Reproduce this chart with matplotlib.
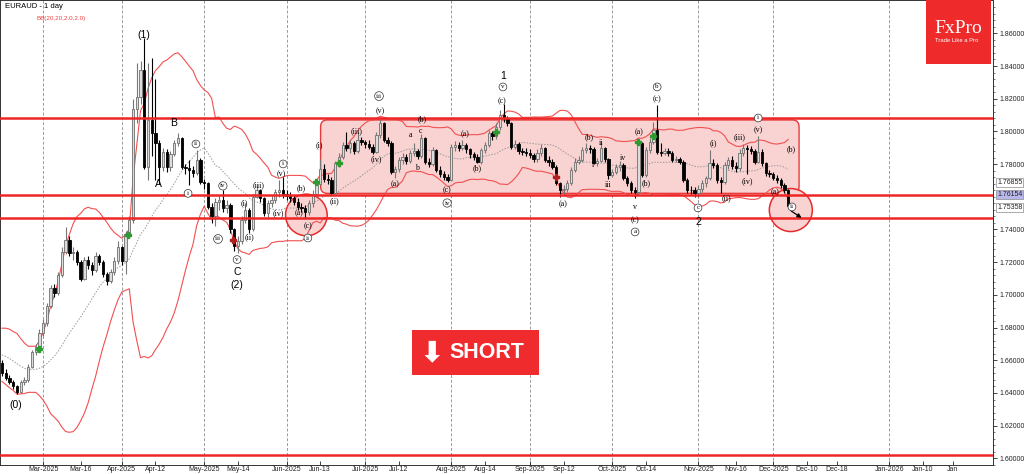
import numpy as np
import pandas as pd
import matplotlib
matplotlib.use("Agg")
import matplotlib.pyplot as plt
import matplotlib.transforms as mtransforms
from matplotlib.patches import FancyBboxPatch, Ellipse, Rectangle

plt.rcParams['font.family'] = ['Liberation Sans', 'DejaVu Sans']

# closes of the bars before the first visible one (they only feed the bands)
prior_closes = [1.6680, 1.6720, 1.6760, 1.6740, 1.6770, 1.6730, 1.6690, 1.6650, 1.6680, 1.6640,
                1.6600, 1.6570, 1.6610, 1.6560, 1.6520, 1.6550, 1.6530, 1.6570, 1.6581]

# daily bars, 14 Feb 2025 .. 5 Dec 2025 (open = previous close)
closes = [1.6520, 1.6490, 1.6470, 1.6440, 1.6405, 1.6469, 1.6480, 1.6561, 1.6650, 1.6680,
          1.6770, 1.6830, 1.6930, 1.7040, 1.7010, 1.7122, 1.7264, 1.7336, 1.7254, 1.7260,
          1.7200, 1.7100, 1.7214, 1.7180, 1.7150, 1.7240, 1.7200, 1.7130, 1.7085, 1.7140,
          1.7210, 1.7290, 1.7210, 1.7370, 1.7460, 1.8140, 1.8212, 1.8375, 1.7784, 1.8070,
          1.7990, 1.7930, 1.7784, 1.7876, 1.7784, 1.7860, 1.7927, 1.7958, 1.7784, 1.7774,
          1.7764, 1.7744, 1.7825, 1.7693, 1.7682, 1.7540, 1.7480, 1.7570, 1.7581, 1.7530,
          1.7550, 1.7400, 1.7300, 1.7330, 1.7458, 1.7520, 1.7400, 1.7601, 1.7642, 1.7590,
          1.7500, 1.7560, 1.7581, 1.7630, 1.7642, 1.7615, 1.7605, 1.7595, 1.7570, 1.7540,
          1.7530, 1.7509, 1.7560, 1.7620, 1.7680, 1.7770, 1.7710, 1.7700, 1.7625, 1.7805,
          1.7846, 1.7917, 1.7896, 1.7927, 1.7880, 1.7948, 1.7935, 1.7920, 1.7905, 1.7876,
          1.7978, 1.8049, 1.7950, 1.7930, 1.7754, 1.7770, 1.7825, 1.7846, 1.7820, 1.7866,
          1.7880, 1.7850, 1.7958, 1.7815, 1.7800, 1.7886, 1.7764, 1.7740, 1.7720, 1.7700,
          1.7907, 1.7917, 1.7900, 1.7915, 1.7890, 1.7860, 1.7846, 1.7815, 1.7886, 1.7917,
          1.7988, 1.7970, 1.8029, 1.8100, 1.8080, 1.8050, 1.7907, 1.7920, 1.7880, 1.7876,
          1.7870, 1.7856, 1.7830, 1.7866, 1.7896, 1.7825, 1.7810, 1.7784, 1.7682, 1.7640,
          1.7650, 1.7682, 1.7764, 1.7815, 1.7825, 1.7886, 1.7896, 1.7890, 1.7805, 1.7820,
          1.7896, 1.7830, 1.7733, 1.7750, 1.7780, 1.7795, 1.7713, 1.7682, 1.7642, 1.7630,
          1.7927, 1.7733, 1.7886, 1.7937, 1.8009, 1.7876, 1.7870, 1.7880, 1.7866, 1.7825,
          1.7830, 1.7815, 1.7703, 1.7642, 1.7640, 1.7625, 1.7650, 1.7682, 1.7713, 1.7805,
          1.7795, 1.7700, 1.7692, 1.7795, 1.7825, 1.7790, 1.7774, 1.7866, 1.7896, 1.7890,
          1.7880, 1.7815, 1.7875, 1.7805, 1.7745, 1.7738, 1.7713, 1.7703, 1.7672, 1.7642,
          1.7545]

highs = [1.6600, 1.6545, 1.6510, 1.6480, 1.6450, 1.6480, 1.6500, 1.6580, 1.6665, 1.6700,
         1.6790, 1.6850, 1.6950, 1.7060, 1.7065, 1.7140, 1.7290, 1.7418, 1.7360, 1.7290,
         1.7275, 1.7215, 1.7230, 1.7240, 1.7200, 1.7265, 1.7250, 1.7215, 1.7140, 1.7160,
         1.7230, 1.7330, 1.7300, 1.7390, 1.7480, 1.8200, 1.8420, 1.8430, 1.8570, 1.8420,
         1.8450, 1.8320, 1.7950, 1.7900, 1.7890, 1.7880, 1.7950, 1.7988, 1.7965, 1.7800,
         1.7825, 1.7790, 1.7886, 1.7840, 1.7710, 1.7690, 1.7560, 1.7590, 1.7610, 1.7640,
         1.7580, 1.7560, 1.7410, 1.7360, 1.7480, 1.7560, 1.7530, 1.7620, 1.7680, 1.7650,
         1.7600, 1.7580, 1.7610, 1.7650, 1.7700, 1.7720, 1.7640, 1.7630, 1.7610, 1.7590,
         1.7560, 1.7550, 1.7580, 1.7640, 1.7700, 1.7830, 1.7800, 1.7740, 1.7720, 1.7820,
         1.7870, 1.7935, 1.7998, 1.7950, 1.7940, 1.7998, 1.7965, 1.7950, 1.7945, 1.7920,
         1.7995, 1.8074, 1.8060, 1.7965, 1.7940, 1.7790, 1.7845, 1.7870, 1.7860, 1.7885,
         1.7930, 1.7895, 1.7985, 1.7965, 1.7840, 1.7905, 1.7895, 1.7790, 1.7760, 1.7740,
         1.7925, 1.7940, 1.7935, 1.7950, 1.7930, 1.7900, 1.7875, 1.7860, 1.7900, 1.7935,
         1.8010, 1.8005, 1.8050, 1.8130, 1.8170, 1.8095, 1.8060, 1.7945, 1.7935, 1.7900,
         1.7900, 1.7890, 1.7870, 1.7890, 1.7920, 1.7905, 1.7850, 1.7830, 1.7795, 1.7690,
         1.7670, 1.7700, 1.7780, 1.7835, 1.7850, 1.7905, 1.7930, 1.7915, 1.7905, 1.7840,
         1.7940, 1.7905, 1.7840, 1.7770, 1.7800, 1.7820, 1.7805, 1.7725, 1.7695, 1.7660,
         1.7950, 1.7935, 1.7905, 1.7960, 1.8060, 1.8160, 1.7930, 1.7900, 1.7900, 1.7880,
         1.7850, 1.7845, 1.7825, 1.7715, 1.7665, 1.7660, 1.7670, 1.7700, 1.7730, 1.7886,
         1.7830, 1.7805, 1.7720, 1.7815, 1.7845, 1.7850, 1.7810, 1.7890, 1.7920, 1.7915,
         1.7910, 1.7895, 1.7970, 1.7890, 1.7815, 1.7765, 1.7750, 1.7735, 1.7715, 1.7685,
         1.7650]

lows = [1.6505, 1.6478, 1.6455, 1.6425, 1.6395, 1.6398, 1.6450, 1.6470, 1.6550, 1.6630,
        1.6670, 1.6750, 1.6810, 1.6920, 1.6990, 1.7000, 1.7110, 1.7250, 1.7240, 1.7215,
        1.7180, 1.7085, 1.7090, 1.7160, 1.7120, 1.7140, 1.7180, 1.7110, 1.7060, 1.7070,
        1.7120, 1.7190, 1.7180, 1.7130, 1.7350, 1.7440, 1.8050, 1.8170, 1.7770, 1.7700,
        1.7850, 1.7700, 1.7680, 1.7760, 1.7750, 1.7760, 1.7850, 1.7910, 1.7770, 1.7740,
        1.7672, 1.7720, 1.7735, 1.7680, 1.7650, 1.7525, 1.7440, 1.7420, 1.7520, 1.7510,
        1.7500, 1.7380, 1.7270, 1.7255, 1.7310, 1.7440, 1.7380, 1.7390, 1.7590, 1.7570,
        1.7480, 1.7470, 1.7540, 1.7560, 1.7600, 1.7590, 1.7580, 1.7570, 1.7550, 1.7520,
        1.7505, 1.7470, 1.7490, 1.7540, 1.7600, 1.7670, 1.7690, 1.7680, 1.7611, 1.7615,
        1.7780, 1.7830, 1.7880, 1.7870, 1.7860, 1.7870, 1.7915, 1.7900, 1.7890, 1.7860,
        1.7870, 1.7960, 1.7935, 1.7910, 1.7740, 1.7713, 1.7750, 1.7800, 1.7800, 1.7805,
        1.7850, 1.7830, 1.7840, 1.7800, 1.7780, 1.7790, 1.7750, 1.7720, 1.7700, 1.7690,
        1.7695, 1.7880, 1.7880, 1.7885, 1.7870, 1.7840, 1.7825, 1.7805, 1.7800, 1.7870,
        1.7905, 1.7950, 1.7955, 1.8010, 1.8060, 1.8030, 1.7890, 1.7890, 1.7860, 1.7855,
        1.7850, 1.7835, 1.7810, 1.7815, 1.7850, 1.7810, 1.7790, 1.7770, 1.7670, 1.7600,
        1.7610, 1.7630, 1.7670, 1.7750, 1.7800, 1.7810, 1.7870, 1.7870, 1.7800, 1.7790,
        1.7810, 1.7815, 1.7710, 1.7720, 1.7740, 1.7760, 1.7700, 1.7665, 1.7625, 1.7591,
        1.7620, 1.7720, 1.7720, 1.7870, 1.7920, 1.7860, 1.7850, 1.7855, 1.7850, 1.7810,
        1.7810, 1.7800, 1.7690, 1.7625, 1.7620, 1.7601, 1.7595, 1.7630, 1.7660, 1.7700,
        1.7775, 1.7685, 1.7625, 1.7680, 1.7770, 1.7770, 1.7750, 1.7760, 1.7850, 1.7740,
        1.7860, 1.7800, 1.7805, 1.7790, 1.7730, 1.7720, 1.7700, 1.7685, 1.7655, 1.7625,
        1.7536]

last_date = "2025-12-05"

# horizontal support / resistance lines
levels = [1.8085, 1.7612, 1.7473, 1.6020]
price_tags = [1.76855, 1.76154, 1.75358]

tick_dates = ["2025-03-01", "2025-03-16", "2025-04-01", "2025-04-12", "2025-05-01", "2025-05-14",
              "2025-06-01", "2025-06-13", "2025-07-01", "2025-07-12", "2025-08-01", "2025-08-14",
              "2025-09-01", "2025-09-12", "2025-10-01", "2025-10-14", "2025-11-01", "2025-11-16",
              "2025-12-01", "2025-12-10", "2025-12-18", "2026-01-01", "2026-01-10", "2026-01-18"]
tick_labels = ["Mar-2025", "Mar-16", "Apr-2025", "Apr-12", "May-2025", "May-14",
               "Jun-2025", "Jun-13", "Jul-2025", "Jul-12", "Aug-2025", "Aug-14",
               "Sep-2025", "Sep-12", "Oct-2025", "Oct-14", "Nov-2025", "Nov-16",
               "Dec-2025", "Dec-10", "Dec-18", "Jan-2026", "Jan-10", "Jan"]

# BB cross arrows (bar, price)
up_sig_bars = [9.9, 33.7, 83.9, 90.0, 131.9, 169.9, 173.9]
up_sig_prices = [1.6670, 1.7366, 1.7690, 1.7807, 1.7998, 1.7935, 1.7972]
dn_sig_bars = [61.7, 148.0]
dn_sig_prices = [1.7336, 1.7721]

# wave labels: text, bar, price, kind
wave_labels = [
    ("(1)", 37.9, 1.8590, "big"), ("(0)", 3.7, 1.6327, "big"), ("A", 41.9, 1.7678, "big"),
    ("B", 45.9, 1.8051, "big"), ("C", 62.8, 1.7140, "big"), ("(2)", 62.8, 1.7061, "big"),
    ("1", 133.8, 1.8339, "big"), ("2", 185.9, 1.7446, "big"),
    ("ii", 51.8, 1.7923, "circ"), ("i", 49.7, 1.7621, "circ"), ("iv", 59.0, 1.7667, "circ"),
    ("iii", 57.7, 1.7342, "circ"), ("v", 62.8, 1.7216, "circ"), ("i", 75.1, 1.7801, "circ"),
    ("ii", 81.7, 1.7348, "circ"), ("iii", 100.7, 1.8216, "circ"), ("iv", 118.9, 1.7562, "circ"),
    ("v", 133.8, 1.8272, "circ"), ("a", 169.1, 1.7385, "circ"), ("b", 175.0, 1.8272, "circ"),
    ("c", 185.9, 1.7532, "circ"), ("i", 202.0, 1.8082, "circ"), ("ii", 211.0, 1.7538, "circ"),
    ("(iii)", 68.6, 1.7672, "par"), ("(i)", 64.6, 1.7562, "par"), ("(ii)", 66.0, 1.7354, "par"),
    ("(iv)", 73.7, 1.7501, "par"), ("(v)", 74.5, 1.7739, "par"), ("(b)", 79.9, 1.7654, "par"),
    ("(a)", 79.3, 1.7499, "par"), ("(c)", 81.7, 1.7423, "par"), ("(i)", 84.7, 1.7917, "par"),
    ("(ii)", 88.9, 1.7574, "par"), ("(iii)", 94.8, 1.8002, "par"), ("(iv)", 99.9, 1.7831, "par"),
    ("(v)", 101.0, 1.8125, "par"), ("(a)", 105.0, 1.7678, "par"), ("(b)", 112.2, 1.8076, "par"),
    ("(c)", 118.9, 1.7642, "par"), ("(a)", 123.7, 1.7984, "par"), ("(b)", 126.9, 1.7776, "par"),
    ("(c)", 133.5, 1.8186, "par"), ("(a)", 149.8, 1.7556, "par"), ("(b)", 156.8, 1.7966, "par"),
    ("(c)", 169.1, 1.7458, "par"), ("(a)", 170.1, 1.7996, "par"), ("(b)", 172.0, 1.7684, "par"),
    ("(c)", 175.0, 1.8198, "par"), ("(i)", 189.9, 1.7929, "par"), ("(ii)", 193.6, 1.7593, "par"),
    ("(iii)", 196.9, 1.7966, "par"), ("(iv)", 199.0, 1.7697, "par"), ("(v)", 202.0, 1.8009, "par"),
    ("(b)", 210.7, 1.7892, "par"), ("(a)", 206.5, 1.7629, "par"),
    ("a", 109.0, 1.7978, "sm"), ("b", 110.8, 1.7776, "sm"), ("c", 111.9, 1.8002, "sm"),
    ("i", 157.9, 1.7794, "sm"), ("ii", 160.0, 1.7929, "sm"), ("iii", 161.9, 1.7672, "sm"),
    ("iv", 165.9, 1.7837, "sm"), ("v", 169.1, 1.7538, "sm"),
]

# ---------------------------------------------------------------
n = len(closes)
dates = pd.bdate_range(end=last_date, periods=n)
all_closes = pd.Series(prior_closes + closes)
opens = np.array(all_closes.shift(1).iloc[len(prior_closes):])
c = np.array(closes)
h = np.array(highs)
l = np.array(lows)
x = np.arange(n)

mid = all_closes.rolling(20).mean().iloc[len(prior_closes):].values
sd = all_closes.rolling(20).std(ddof=0).iloc[len(prior_closes):].values


def date_pos(d):
    d = pd.Timestamp(d)
    if d <= dates[-1]:
        return int(dates.searchsorted(d))
    return (n - 1) + (d - dates[-1]).days


tick_pos = [date_pos(d) for d in tick_dates]

fig = plt.figure(figsize=(10.24, 4.74), dpi=100)
ax = fig.add_axes([0.0, 9 / 474, 993 / 1024, 465 / 474])
ax.set_xlim(-0.53, 264.7)
ax.set_ylim(1.59596, 1.88037)

# month separators
for p, lab in zip(tick_pos, tick_labels):
    if "-20" in lab:
        ax.axvline(p, color="#9a9a9a", lw=0.7, ls=(0, (3, 2)), zorder=0)

# consolidation box
px_x = 1 / 3.744
px_y = 1 / 1635
box = FancyBboxPatch((85.1, 1.7621), 212.9 - 85.1, 1.8070 - 1.7621,
                     boxstyle="round,pad=0,rounding_size=1.8", mutation_aspect=px_y / px_x,
                     fc="#f9d2d2", ec="#e83a3a", lw=1.0, zorder=0.5)
ax.add_patch(box)

for cx, cy, r in [(81.3, 1.7489, 20.8), (210.7, 1.7519, 21.5)]:
    ax.add_patch(Ellipse((cx, cy), 2 * r * px_x, 2 * r * px_y, fc="#f9d2d2", ec="#e82a2a",
                         lw=1.1, zorder=0.6))

# bands
ax.plot(x, mid + 2 * sd, color="#f25050", lw=0.8, zorder=1)
ax.plot(x, mid - 2 * sd, color="#f25050", lw=0.8, zorder=1)
ax.plot(x, mid, color="#9a9a9a", lw=0.7, ls=(0, (1.5, 1.5)), zorder=1)

# candles
up = c >= opens
body_lo = np.minimum(opens, c)
body_h = np.maximum(np.abs(c - opens), 0.0004)
ax.vlines(x[up], l[up], h[up], color="#777777", lw=0.8, zorder=2)
ax.vlines(x[~up], l[~up], h[~up], color="black", lw=0.8, zorder=2)
ax.bar(x[up], body_h[up], bottom=body_lo[up], width=0.62, color="#dcdcdc",
       edgecolor="#6e6e6e", lw=0.6, zorder=3)
ax.bar(x[~up], body_h[~up], bottom=body_lo[~up], width=0.62, color="black",
       edgecolor="black", lw=0.6, zorder=3)

ax.plot(up_sig_bars, up_sig_prices, ls="none", marker="P", ms=4, color="#2f9a2f", zorder=4)
ax.plot(dn_sig_bars, dn_sig_prices, ls="none", marker="P", ms=4, color="#b02020", zorder=4)

# levels
for lv in levels:
    ax.axhline(lv, color="#ee2626", lw=1.8, zorder=4)

# arrow in the last circle
ax.annotate("", xy=(214.2, 1.7462), xytext=(210.2, 1.7522),
            arrowprops=dict(arrowstyle="-|>", color="black", lw=0.9, mutation_scale=6), zorder=6)

# wave labels
for txt, bx, py, kind in wave_labels:
    if kind == "big":
        ax.text(bx, py, txt, ha="center", va="center", fontsize=7.5, color="black", zorder=7)
    elif kind == "circ":
        ax.text(bx, py, txt, ha="center", va="center", fontsize=5, color="black",
                family="Liberation Serif", zorder=7,
                bbox=dict(boxstyle="circle,pad=0.2", fc="white", ec="#333333", lw=0.5))
    else:
        ax.text(bx, py, txt, ha="center", va="center", fontsize=5.8, color="black",
                family="Liberation Serif", zorder=7)

# axes styling
ax.yaxis.tick_right()
yt = [round(1.60 + 0.02 * k, 2) for k in range(14)]
yt = [v for v in yt if abs(v - 1.76) > 1e-6]
ax.set_yticks(yt)
ax.set_yticklabels([f"{v:.5f}" for v in yt])
ax.set_yticks(np.arange(1.596, 1.880, 0.004), minor=True)
ax.tick_params(axis="y", which="major", labelsize=5, length=3, width=0.6, pad=1.5,
               colors="#222222")
ax.tick_params(axis="y", which="minor", length=1.5, width=0.5, colors="#444444")
ax.set_xticks(tick_pos)
ax.set_xticklabels(tick_labels)
ax.tick_params(axis="x", labelsize=5, length=3, width=0.6, pad=0.8, direction="in",
               colors="#222222")
for s in ax.spines.values():
    s.set_linewidth(0.7)
    s.set_color("#333333")

# price tags on the axis
trans = mtransforms.blended_transform_factory(ax.transAxes, ax.transData)
for pt in price_tags:
    fc = "#b8b8ec" if abs(pt - 1.76154) < 1e-6 else "white"
    ax.text(1.004, pt, f"{pt:.5f}", transform=trans, ha="left", va="center", fontsize=5,
            color="#222222", clip_on=False, zorder=8,
            bbox=dict(boxstyle="square,pad=0.15", fc=fc, ec="#888888", lw=0.5))

# header texts
ax.text(0.005, 0.993, "EURAUD - 1 day", transform=ax.transAxes, ha="left", va="top",
        fontsize=5.5, color="black")
ax.text(0.037, 0.965, "BB(20,20,2.0,2.0)", transform=ax.transAxes, ha="left", va="top",
        fontsize=4.5, color="#f04040")

# FxPro logo
ax.add_patch(Rectangle((926 / 993, 1 - 64 / 465), 65 / 993, 64 / 465, transform=ax.transAxes,
                       fc="#ee2a2a", ec="none", zorder=9, clip_on=False))
ax.text(958 / 993, 1 - 28.5 / 465, "FxPro", transform=ax.transAxes, ha="center", va="center",
        fontsize=14, color="white", family="Liberation Serif", zorder=10)
ax.text(957 / 993, 1 - 40 / 465, "Trade Like a Pro", transform=ax.transAxes, ha="center",
        va="center", fontsize=4.2, color="white", zorder=10)

# SHORT badge
ax.add_patch(Rectangle((412 / 993, 1 - 375 / 465), 127 / 993, 45 / 465, transform=ax.transAxes,
                       fc="#ef2b2e", ec="none", zorder=9))
ax.text(432 / 993, 1 - 353 / 465, "\u2B07", transform=ax.transAxes, ha="center", va="center",
        fontsize=21, color="white", family=["DejaVu Sans"], fontweight="bold", zorder=10)
ax.text(487 / 993, 1 - 353 / 465, "SHORT", transform=ax.transAxes, ha="center", va="center",
        fontsize=15.5, color="white", fontweight="bold", zorder=10)

fig.savefig("out.png", dpi=100)
